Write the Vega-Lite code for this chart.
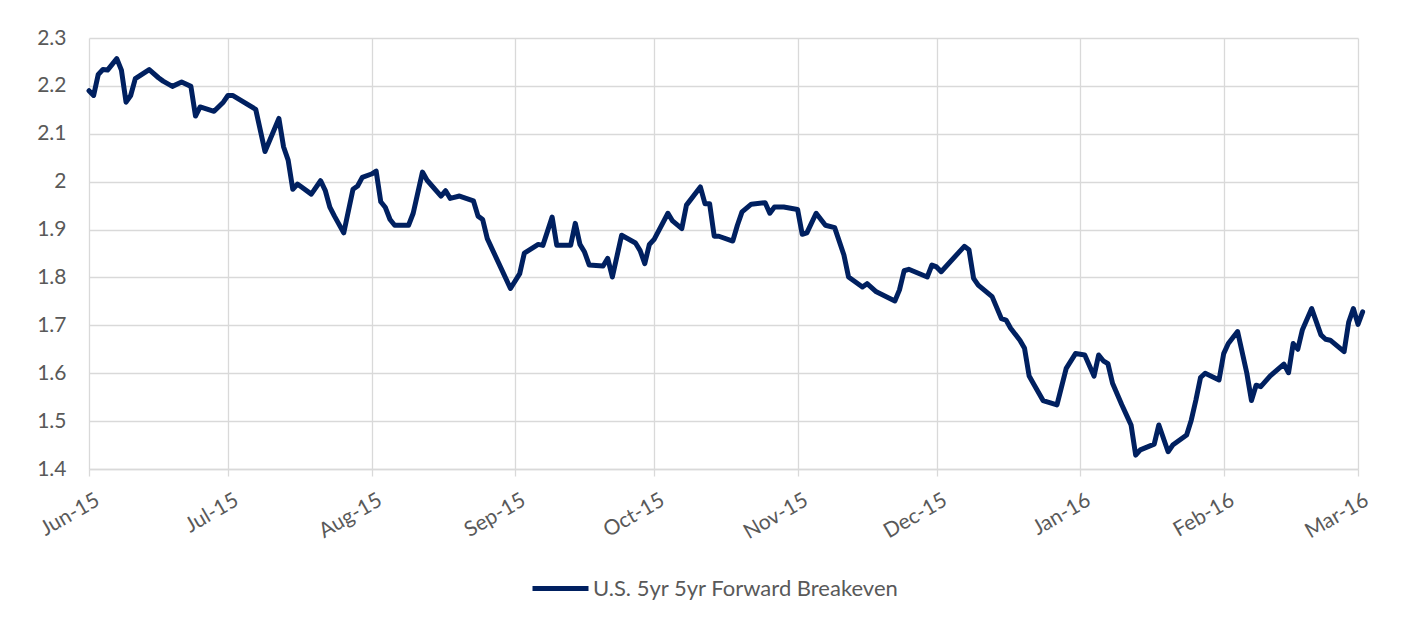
{
  "$schema": "https://vega.github.io/schema/vega-lite/v6.json",
  "autosize": {"type": "none"},
  "width": 1269,
  "height": 431,
  "padding": {"left": 89, "top": 38, "right": 61, "bottom": 151},
  "background": "#ffffff",
  "config": {
    "view": {"stroke": null},
    "font": "Lato",
    "axis": {
      "labelFont": "Lato",
      "labelFontSize": 21,
      "labelColor": "#595959",
      "gridColor": "#d9d9d9",
      "gridWidth": 1.3,
      "title": null
    },
    "legend": {
      "labelFont": "Lato",
      "labelFontSize": 22,
      "labelColor": "#595959",
      "labelLimit": 0,
      "padding": 0
    }
  },
  "data": {
    "values": [
      {"date": "2015-06-01", "value": 2.19},
      {"date": "2015-06-02", "value": 2.18},
      {"date": "2015-06-03", "value": 2.224},
      {"date": "2015-06-04", "value": 2.234},
      {"date": "2015-06-05", "value": 2.233},
      {"date": "2015-06-07", "value": 2.257},
      {"date": "2015-06-08", "value": 2.233},
      {"date": "2015-06-09", "value": 2.166},
      {"date": "2015-06-10", "value": 2.18},
      {"date": "2015-06-11", "value": 2.215},
      {"date": "2015-06-14", "value": 2.234},
      {"date": "2015-06-16", "value": 2.217},
      {"date": "2015-06-17", "value": 2.21},
      {"date": "2015-06-19", "value": 2.199},
      {"date": "2015-06-21", "value": 2.208},
      {"date": "2015-06-23", "value": 2.199},
      {"date": "2015-06-24", "value": 2.137},
      {"date": "2015-06-25", "value": 2.156},
      {"date": "2015-06-28", "value": 2.147},
      {"date": "2015-06-30", "value": 2.166},
      {"date": "2015-07-01", "value": 2.18},
      {"date": "2015-07-02", "value": 2.18},
      {"date": "2015-07-07", "value": 2.151},
      {"date": "2015-07-09", "value": 2.063},
      {"date": "2015-07-12", "value": 2.132},
      {"date": "2015-07-13", "value": 2.073},
      {"date": "2015-07-14", "value": 2.045},
      {"date": "2015-07-15", "value": 1.984},
      {"date": "2015-07-16", "value": 1.995},
      {"date": "2015-07-19", "value": 1.974},
      {"date": "2015-07-21", "value": 2.002},
      {"date": "2015-07-22", "value": 1.982},
      {"date": "2015-07-23", "value": 1.947},
      {"date": "2015-07-24", "value": 1.928},
      {"date": "2015-07-26", "value": 1.893},
      {"date": "2015-07-28", "value": 1.984},
      {"date": "2015-07-29", "value": 1.991},
      {"date": "2015-07-30", "value": 2.009},
      {"date": "2015-08-01", "value": 2.016},
      {"date": "2015-08-02", "value": 2.022},
      {"date": "2015-08-03", "value": 1.958},
      {"date": "2015-08-04", "value": 1.946},
      {"date": "2015-08-05", "value": 1.921},
      {"date": "2015-08-06", "value": 1.909},
      {"date": "2015-08-09", "value": 1.909},
      {"date": "2015-08-10", "value": 1.934},
      {"date": "2015-08-12", "value": 2.02},
      {"date": "2015-08-13", "value": 2.003},
      {"date": "2015-08-16", "value": 1.97},
      {"date": "2015-08-17", "value": 1.981},
      {"date": "2015-08-18", "value": 1.965},
      {"date": "2015-08-20", "value": 1.97},
      {"date": "2015-08-23", "value": 1.96},
      {"date": "2015-08-24", "value": 1.928},
      {"date": "2015-08-25", "value": 1.921},
      {"date": "2015-08-26", "value": 1.881},
      {"date": "2015-08-31", "value": 1.777},
      {"date": "2015-09-02", "value": 1.808},
      {"date": "2015-09-03", "value": 1.851},
      {"date": "2015-09-06", "value": 1.869},
      {"date": "2015-09-07", "value": 1.867},
      {"date": "2015-09-09", "value": 1.926},
      {"date": "2015-09-10", "value": 1.867},
      {"date": "2015-09-13", "value": 1.867},
      {"date": "2015-09-14", "value": 1.913},
      {"date": "2015-09-15", "value": 1.869},
      {"date": "2015-09-16", "value": 1.853},
      {"date": "2015-09-17", "value": 1.826},
      {"date": "2015-09-20", "value": 1.824},
      {"date": "2015-09-21", "value": 1.84},
      {"date": "2015-09-22", "value": 1.801},
      {"date": "2015-09-24", "value": 1.888},
      {"date": "2015-09-27", "value": 1.872},
      {"date": "2015-09-28", "value": 1.856},
      {"date": "2015-09-29", "value": 1.829},
      {"date": "2015-09-30", "value": 1.869},
      {"date": "2015-10-01", "value": 1.879},
      {"date": "2015-10-04", "value": 1.934},
      {"date": "2015-10-05", "value": 1.918},
      {"date": "2015-10-07", "value": 1.902},
      {"date": "2015-10-08", "value": 1.951},
      {"date": "2015-10-11", "value": 1.989},
      {"date": "2015-10-12", "value": 1.954},
      {"date": "2015-10-13", "value": 1.954},
      {"date": "2015-10-14", "value": 1.886},
      {"date": "2015-10-15", "value": 1.886},
      {"date": "2015-10-18", "value": 1.876},
      {"date": "2015-10-19", "value": 1.909},
      {"date": "2015-10-20", "value": 1.937},
      {"date": "2015-10-22", "value": 1.953},
      {"date": "2015-10-25", "value": 1.956},
      {"date": "2015-10-26", "value": 1.934},
      {"date": "2015-10-27", "value": 1.947},
      {"date": "2015-10-29", "value": 1.947},
      {"date": "2015-11-01", "value": 1.942},
      {"date": "2015-11-02", "value": 1.89},
      {"date": "2015-11-03", "value": 1.893},
      {"date": "2015-11-05", "value": 1.934},
      {"date": "2015-11-07", "value": 1.909},
      {"date": "2015-11-09", "value": 1.904},
      {"date": "2015-11-11", "value": 1.847},
      {"date": "2015-11-12", "value": 1.801},
      {"date": "2015-11-15", "value": 1.78},
      {"date": "2015-11-16", "value": 1.787},
      {"date": "2015-11-18", "value": 1.77},
      {"date": "2015-11-22", "value": 1.751},
      {"date": "2015-11-23", "value": 1.774},
      {"date": "2015-11-24", "value": 1.814},
      {"date": "2015-11-25", "value": 1.817},
      {"date": "2015-11-29", "value": 1.801},
      {"date": "2015-11-30", "value": 1.826},
      {"date": "2015-12-01", "value": 1.822},
      {"date": "2015-12-02", "value": 1.812},
      {"date": "2015-12-07", "value": 1.865},
      {"date": "2015-12-08", "value": 1.858},
      {"date": "2015-12-09", "value": 1.798},
      {"date": "2015-12-10", "value": 1.784},
      {"date": "2015-12-13", "value": 1.76},
      {"date": "2015-12-15", "value": 1.714},
      {"date": "2015-12-16", "value": 1.711},
      {"date": "2015-12-17", "value": 1.694},
      {"date": "2015-12-19", "value": 1.669},
      {"date": "2015-12-20", "value": 1.652},
      {"date": "2015-12-21", "value": 1.594},
      {"date": "2015-12-22", "value": 1.577},
      {"date": "2015-12-24", "value": 1.543},
      {"date": "2015-12-27", "value": 1.534},
      {"date": "2015-12-29", "value": 1.61},
      {"date": "2015-12-31", "value": 1.641},
      {"date": "2016-01-02", "value": 1.638},
      {"date": "2016-01-04", "value": 1.594},
      {"date": "2016-01-05", "value": 1.638},
      {"date": "2016-01-06", "value": 1.626},
      {"date": "2016-01-07", "value": 1.62},
      {"date": "2016-01-08", "value": 1.579},
      {"date": "2016-01-10", "value": 1.534},
      {"date": "2016-01-11", "value": 1.513},
      {"date": "2016-01-12", "value": 1.492},
      {"date": "2016-01-13", "value": 1.429},
      {"date": "2016-01-14", "value": 1.44},
      {"date": "2016-01-17", "value": 1.452},
      {"date": "2016-01-18", "value": 1.492},
      {"date": "2016-01-20", "value": 1.436},
      {"date": "2016-01-21", "value": 1.45},
      {"date": "2016-01-24", "value": 1.471},
      {"date": "2016-01-25", "value": 1.502},
      {"date": "2016-01-26", "value": 1.544},
      {"date": "2016-01-27", "value": 1.591},
      {"date": "2016-01-28", "value": 1.6},
      {"date": "2016-01-31", "value": 1.586},
      {"date": "2016-02-01", "value": 1.641},
      {"date": "2016-02-02", "value": 1.662},
      {"date": "2016-02-04", "value": 1.687},
      {"date": "2016-02-06", "value": 1.6},
      {"date": "2016-02-07", "value": 1.543},
      {"date": "2016-02-08", "value": 1.575},
      {"date": "2016-02-09", "value": 1.572},
      {"date": "2016-02-11", "value": 1.594},
      {"date": "2016-02-14", "value": 1.619},
      {"date": "2016-02-15", "value": 1.601},
      {"date": "2016-02-16", "value": 1.662},
      {"date": "2016-02-17", "value": 1.65},
      {"date": "2016-02-18", "value": 1.691},
      {"date": "2016-02-20", "value": 1.735},
      {"date": "2016-02-22", "value": 1.68},
      {"date": "2016-02-23", "value": 1.671},
      {"date": "2016-02-24", "value": 1.669},
      {"date": "2016-02-27", "value": 1.645},
      {"date": "2016-02-28", "value": 1.707},
      {"date": "2016-02-29", "value": 1.735},
      {"date": "2016-03-01", "value": 1.702},
      {"date": "2016-03-02", "value": 1.728}
    ]
  },
  "mark": {
    "type": "line",
    "strokeWidth": 5,
    "strokeJoin": "round",
    "strokeCap": "round"
  },
  "encoding": {
    "x": {
      "field": "date",
      "type": "temporal",
      "scale": {
        "type": "utc",
        "domain": [
          {"year": 2015, "month": "jun", "date": 1, "utc": true},
          {"year": 2016, "month": "mar", "date": 1, "utc": true}
        ]
      },
      "axis": {
        "values": [
          {"year": 2015, "month": "jun", "date": 1, "utc": true},
          {"year": 2015, "month": "jul", "date": 1, "utc": true},
          {"year": 2015, "month": "aug", "date": 1, "utc": true},
          {"year": 2015, "month": "sep", "date": 1, "utc": true},
          {"year": 2015, "month": "oct", "date": 1, "utc": true},
          {"year": 2015, "month": "nov", "date": 1, "utc": true},
          {"year": 2015, "month": "dec", "date": 1, "utc": true},
          {"year": 2016, "month": "jan", "date": 1, "utc": true},
          {"year": 2016, "month": "feb", "date": 1, "utc": true},
          {"year": 2016, "month": "mar", "date": 1, "utc": true}
        ],
        "labelExpr": "utcFormat(datum.value, '%b-%y')",
        "labelAngle": -30,
        "labelAlign": "right",
        "labelBaseline": "top",
        "labelPadding": 13,
        "labelOffset": 3,
        "labelOverlap": false,
        "labelBound": false,
        "labelFlush": false,
        "tickSize": 7,
        "tickColor": "#d9d9d9",
        "tickWidth": 1.3,
        "domainColor": "#d9d9d9",
        "domainWidth": 1.3,
        "grid": true
      }
    },
    "y": {
      "field": "value",
      "type": "quantitative",
      "scale": {"domain": [1.4, 2.3], "zero": false, "nice": false},
      "axis": {
        "values": [1.4, 1.5, 1.6, 1.7, 1.8, 1.9, 2.0, 2.1, 2.2, 2.3],
        "format": ".1~f",
        "ticks": false,
        "domain": false,
        "labelPadding": 23,
        "grid": true
      }
    },
    "color": {
      "datum": "U.S. 5yr 5yr Forward Breakeven",
      "type": "nominal",
      "scale": {"range": ["#002060"]},
      "legend": {
        "title": null,
        "orient": "none",
        "legendX": 441,
        "legendY": 520,
        "symbolType": "stroke",
        "symbolSize": 3136,
        "symbolStrokeWidth": 5,
        "labelOffset": 2
      }
    }
  }
}
